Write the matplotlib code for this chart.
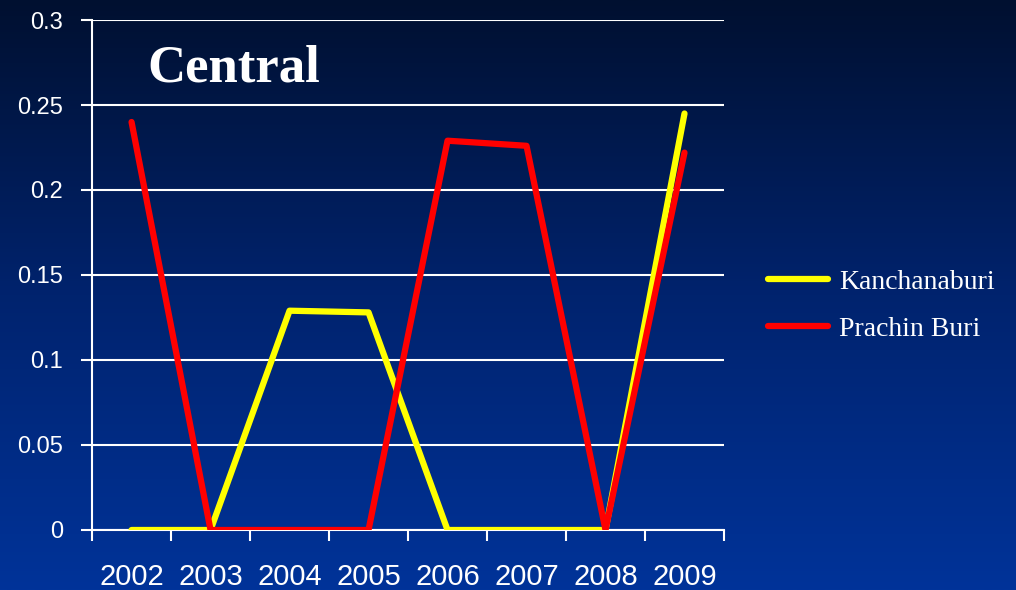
import numpy as np
import matplotlib.pyplot as plt
from matplotlib.colors import LinearSegmentedColormap

years = ['2002', '2003', '2004', '2005', '2006', '2007', '2008', '2009']
kanchanaburi = [0, 0, 0.129, 0.128, 0, 0, 0, 0.245]
prachin_buri = [0.24, 0, 0, 0, 0.229, 0.226, 0, 0.222]
yticks = [0, 0.05, 0.1, 0.15, 0.2, 0.25, 0.3]
ytick_labels = ['0', '0.05', '0.1', '0.15', '0.2', '0.25', '0.3']

fig = plt.figure(figsize=(10.16, 5.90), dpi=100)

# background gradient, dark navy at top to blue at bottom
bg = fig.add_axes([0, 0, 1, 1], zorder=0)
cmap = LinearSegmentedColormap.from_list('bg', ['#001030', '#00236e', '#003399'])
grad = np.linspace(0, 1, 256).reshape(-1, 1)
bg.imshow(grad, aspect='auto', cmap=cmap, extent=[0, 1, 0, 1], origin='upper')
bg.axis('off')

ax = fig.add_axes([0.0906, 0.1017, 0.6220, 0.8644], zorder=1)
ax.patch.set_alpha(0)

x = np.arange(len(years))
ax.plot(x, kanchanaburi, color='#ffff00', lw=4.5, solid_capstyle='round',
        solid_joinstyle='round', label='Kanchanaburi', zorder=3)
ax.plot(x, prachin_buri, color='#ff0000', lw=4.5, solid_capstyle='round',
        solid_joinstyle='round', label='Prachin Buri', zorder=4)

ax.set_xlim(-0.5, len(years) - 0.5)
ax.set_ylim(0, 0.3)
ax.set_yticks(yticks)
ax.set_yticklabels(ytick_labels, fontfamily='Liberation Sans', fontsize=17, color='white')
ax.yaxis.grid(True, color='white', lw=1.5)
ax.set_axisbelow(True)

# x ticks on category boundaries, labels in the middle
ax.set_xticks(np.arange(len(years) + 1) - 0.5)
ax.set_xticklabels([])
ax.set_xticks(x, minor=True)
ax.set_xticklabels(years, minor=True, fontfamily='Liberation Sans', fontsize=21, color='white')
ax.tick_params(axis='x', which='minor', length=0, pad=24)
ax.tick_params(axis='x', which='major', length=8, width=1.5, color='white')
ax.tick_params(axis='y', length=8, width=1.5, color='white', pad=13)

for s in ['top', 'right']:
    ax.spines[s].set_visible(False)
for s in ['left', 'bottom']:
    ax.spines[s].set_color('white')
    ax.spines[s].set_linewidth(1.5)

ax.text(0.087, 0.905, 'Central', transform=ax.transAxes, fontsize=38,
        fontweight='bold', fontfamily='Liberation Serif', color='white', va='center')

leg = ax.legend(loc='center left', bbox_to_anchor=(1.052, 0.44), frameon=False,
                borderaxespad=0, prop={'family': 'Liberation Serif', 'size': 20},
                handlelength=2.15, labelspacing=0.78, handletextpad=0.4)
for t in leg.get_texts():
    t.set_color('white')

fig.savefig('out.png', dpi=100)
